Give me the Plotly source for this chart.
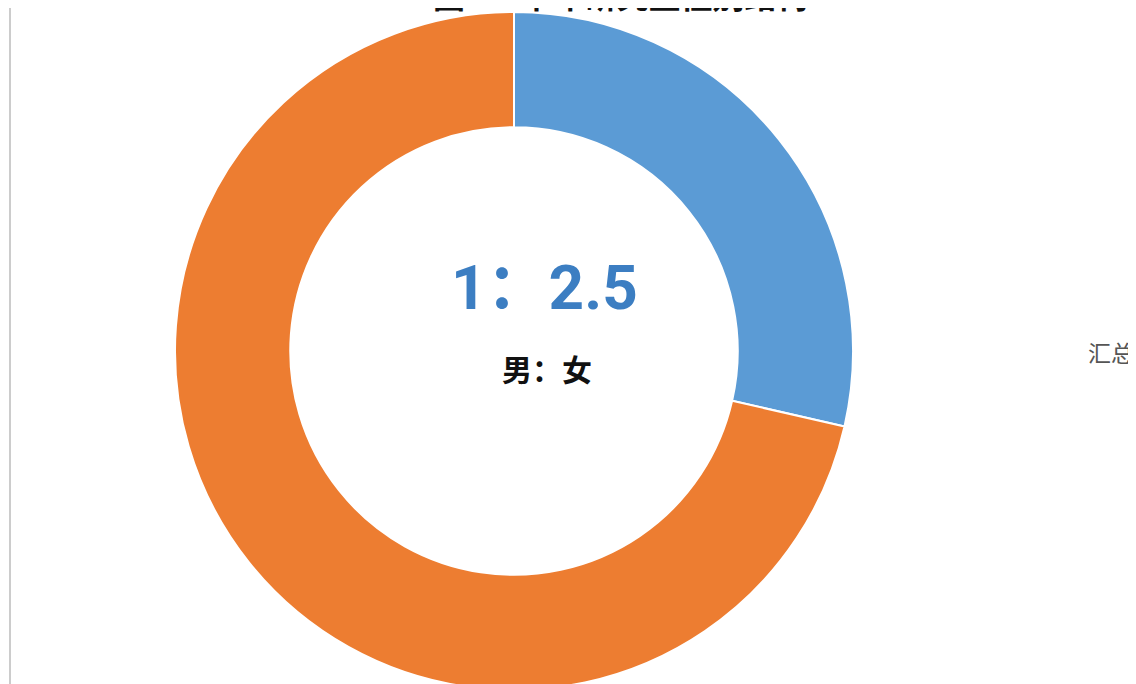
import plotly.graph_objects as go

labels = ["男", "女"]
values = [1, 2.5]
colors = ["#5B9BD5", "#ED7D31"]
title_text = "图1.2 本年研究生性别结构"
ratio_text = "1：2.5"
ratio_label = "男：女"
side_text = "汇总"

W, H = 1128, 700
OFF = 8  # body margin of the page
cx, cy, R = 514 - OFF, 351 - OFF, 339

fig = go.Figure(go.Pie(
    labels=labels, values=values, hole=0.66, sort=False, direction="clockwise",
    rotation=0, marker=dict(colors=colors, line=dict(color="white", width=2)),
    textinfo="none", hoverinfo="label+value",
    domain=dict(x=[(cx - R) / W, (cx + R) / W], y=[1 - (cy + R) / H, 1 - (cy - R) / H]),
    showlegend=False,
))

def px(x):
    return (x - OFF) / W

def py(y):
    return 1 - (y - OFF) / H

fig.add_annotation(x=px(544), y=py(287), xref="paper", yref="paper", text=f"<b>{ratio_text}</b>",
                   xanchor="center", yanchor="middle",
                   showarrow=False, font=dict(size=62, color="#3C7EC2", family="Roboto, Noto Sans CJK SC"))
fig.add_annotation(x=px(547), y=py(368), xref="paper", yref="paper", text=f"<b>{ratio_label}</b>",
                   xanchor="center", yanchor="middle",
                   showarrow=False, font=dict(size=30, color="#111111", family="Noto Sans CJK SC"))
fig.add_annotation(x=px(620), y=py(-6), xref="paper", yref="paper", text=f"<b>{title_text}</b>",
                   xanchor="center", yanchor="middle",
                   showarrow=False, font=dict(size=32, color="#111111", family="Noto Sans CJK SC"))
fig.add_annotation(x=px(1086), y=py(352), xref="paper", yref="paper", text=side_text,
                   xanchor="left", yanchor="middle",
                   showarrow=False, font=dict(size=23, color="#555555", family="Noto Sans CJK SC"))

fig.add_shape(type="line", x0=px(10), x1=px(10), y0=py(8), y1=py(H + OFF), xref="paper", yref="paper",
              line=dict(color="#cccccc", width=2))

fig.update_layout(width=W, height=H, margin=dict(l=0, r=0, t=0, b=0),
                  paper_bgcolor="white", plot_bgcolor="white")
fig.write_html("out.html")
